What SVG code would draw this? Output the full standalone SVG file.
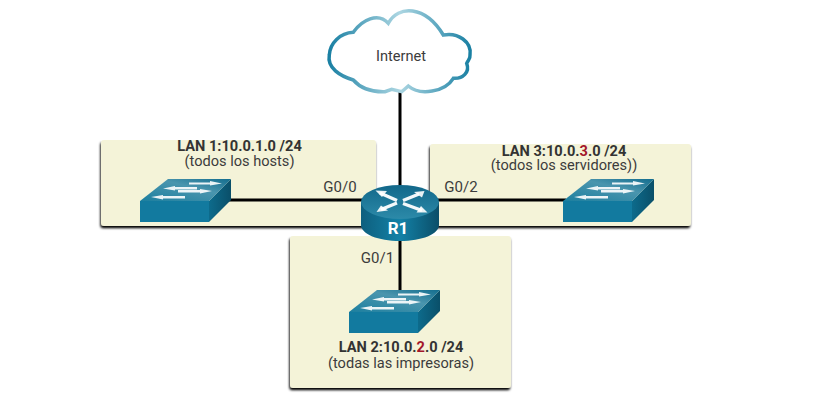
<svg xmlns="http://www.w3.org/2000/svg" width="823" height="412" viewBox="0 0 823 412">
<style>
text{font-family:Roboto,"Liberation Sans",sans-serif;font-size:14.6px;text-anchor:middle;fill:#3c3c3c}
text.g{font-size:15px}
.b{font-weight:700;fill:#333}
.r{fill:#a3162a}
.p{fill:#f4f3d8;filter:url(#sh)}
.l{stroke:#000;stroke-width:3;fill:none}
.f{fill:#127a9f}
.d{fill:url(#side)}
.t{fill:url(#top)}
.w{fill:#fff;opacity:.9}
.a{stroke:#fff;stroke-width:3.4;fill:none;opacity:.95}
</style>
<defs>
<filter id="sh" x="-5%" y="-5%" width="110%" height="112%"><feDropShadow dx="-.7" dy="2.2" stdDeviation=".8" flood-color="#000" flood-opacity="1"/></filter>
<linearGradient id="cl" x1="0" y1="0" x2="1" y2="0"><stop offset="0" stop-color="#1a80a3"/><stop offset=".5" stop-color="#acd6e2"/><stop offset="1" stop-color="#1a80a3"/></linearGradient>
<linearGradient id="side" x1="0" y1="0" x2="1" y2="0"><stop offset="0" stop-color="#0d6b8c"/><stop offset="1" stop-color="#0a4f69"/></linearGradient>
<linearGradient id="top" x1="0" y1="1" x2="1" y2="0"><stop offset="0" stop-color="#1c7f9f"/><stop offset=".6" stop-color="#4a95ae"/><stop offset="1" stop-color="#136d8e"/></linearGradient>
<linearGradient id="cyl" x1="0" y1="0" x2="1" y2="0"><stop offset="0" stop-color="#0e5f7e"/><stop offset=".5" stop-color="#1381a6"/><stop offset="1" stop-color="#0b4e69"/></linearGradient>
<linearGradient id="rt" x1="0" y1="0" x2="0" y2="1"><stop offset="0" stop-color="#12688a"/><stop offset="1" stop-color="#2c8aa9"/></linearGradient>
<g id="sw">
<path class="f" d="M0 22H69V43H0Z"/>
<path class="d" d="M69 22L91 0V21L69 43Z"/>
<path class="t" d="M0 22L28 0H91L69 22Z"/>
<path class="w" d="M11 18L23 16V17H45V19.500H23V20.500ZM38 11H60V10L72 12L60 14.500V13.500H38ZM23 9.500L35 7V8H57V10.500H35V11.500ZM49 3.500H70V2L82 4.500L70 6.500V5.500H49Z"/>
</g>
</defs>
<g id="lan1"><rect class="p" x="101" y="140" width="275" height="86" rx="3"/></g>
<g id="lan3"><rect class="p" x="430" y="144" width="261" height="82" rx="3"/></g>
<g id="lan2"><rect class="p" x="290" y="236" width="221" height="152" rx="3"/></g>
<g id="connectors">
<path class="l" d="M400 90V190M228 200H566M400 236V300"/>
</g>
<g id="internet">
<path d="M353.300 32.300C362 20 378 12 388.300 23.300C398 5 425 5 443.300 35C458 32 472 42 470 55C470.500 59 468 60 466.700 63.300C470 72 463 79 453.300 78.300C445 92 420 96 408.300 86L401.700 91.700L391.700 89.300L385 91.700C375 92 362 90 353.300 80C340 76 327 68 329.300 55C330 43 340 33 353.300 32.300Z" fill="#fff" stroke="url(#cl)" stroke-width="3.500"/>
<text x="401" y="61">Internet</text>
</g>
<g id="sw1"><use href="#sw" x="140" y="179"/></g>
<g id="sw3"><use href="#sw" x="563" y="179"/></g>
<g id="sw2"><use href="#sw" x="349" y="290"/></g>
<g id="r1">
<path d="M361 202V225C361 234 378 241 400 241S439 234 439 225V202Z" fill="url(#cyl)"/>
<ellipse cx="400" cy="202" rx="39" ry="17" fill="url(#rt)"/>
<path class="a" d="M380 193L397 200.500M403 200.500L419 194M381 209.500L397 203M403 203.500L422 210.500"/>
<path class="w" d="M375.500 190.500L387 191L382 197ZM424.500 191L422 197.500L414 192ZM376.500 212L381 205.500L388 210.500ZM427.500 212.500L416.500 212.500L421 206Z"/>
<text class="b" x="398" y="234" style="fill:#fff;font-size:17px">R1</text>
</g>
<g id="labels">
<text class="g" x="340" y="192">G0/0</text>
<text class="g" x="461" y="192">G0/2</text>
<text class="g" x="377.500" y="263">G0/1</text>
<text class="b" x="239.500" y="151">LAN 1:10.0.1.0 /24</text>
<text x="239.500" y="166">(todos los hosts)</text>
<text class="b" x="564" y="155.500">LAN 3:10.0.<tspan class="r">3</tspan>.0 /24</text>
<text x="564" y="170">(todos los servidores))</text>
<text class="b" x="401" y="352">LAN 2:10.0.<tspan class="r">2</tspan>.0 /24</text>
<text x="401" y="368">(todas las impresoras)</text>
</g>
</svg>
